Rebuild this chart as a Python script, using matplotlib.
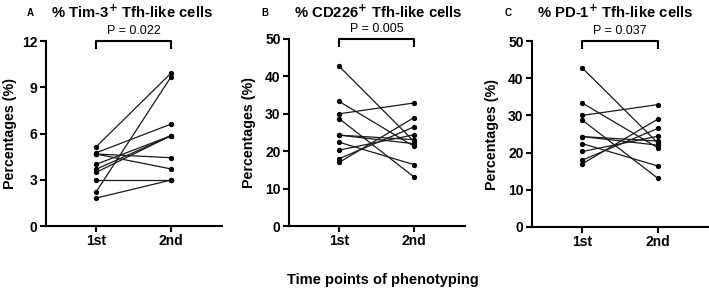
import matplotlib
matplotlib.use("Agg")
import matplotlib.pyplot as plt

plt.rcParams['font.family'] = ['Liberation Sans', 'DejaVu Sans']

timepoints = ["1st", "2nd"]

# Panel A: % Tim-3+ Tfh-like cells (pairs: 1st, 2nd)
tim3_first = [5.14, 4.75, 4.67, 4.67, 4.0, 3.68, 3.48, 2.98, 2.22, 1.81]
tim3_second = [9.92, 6.61, 4.43, 3.70, 5.86, 5.86, 5.86, 2.98, 9.68, 2.98]

# Panel B: % CD226+ Tfh-like cells
cd226_first = [42.7, 33.3, 30.0, 28.7, 24.3, 24.3, 22.4, 20.3, 18.0, 17.0]
cd226_second = [22.6, 21.3, 32.9, 13.1, 23.1, 22.0, 16.4, 24.4, 26.5, 29.0]

# Panel C: % PD-1+ Tfh-like cells
pd1_first = [42.7, 33.3, 30.0, 28.7, 24.3, 24.3, 22.4, 20.3, 18.0, 17.0]
pd1_second = [22.6, 21.3, 32.9, 13.1, 23.1, 22.0, 16.4, 24.4, 26.5, 29.0]

panels = [
    dict(letter="A", title=r"% Tim-3$^{\mathbf{+}}$ Tfh-like cells", first=tim3_first,
         second=tim3_second, yticks=[0, 3, 6, 9, 12], ymax=12, p="P = 0.022",
         box=(46, 222, 226, 41), letter_x=30, ylab_x=10, title_x=132),
    dict(letter="B", title=r"% CD226$^{\mathbf{+}}$ Tfh-like cells", first=cd226_first,
         second=cd226_second, yticks=[0, 10, 20, 30, 40, 50], ymax=50, p="P = 0.005",
         box=(289, 465, 226, 39), letter_x=265, ylab_x=249, title_x=378),
    dict(letter="C", title=r"% PD-1$^{\mathbf{+}}$ Tfh-like cells", first=pd1_first,
         second=pd1_second, yticks=[0, 10, 20, 30, 40, 50], ymax=50, p="P = 0.037",
         box=(532, 709, 227, 41), letter_x=508, ylab_x=492, title_x=615),
]

W, H = 709, 291
fig = plt.figure(figsize=(W / 100, H / 100), dpi=100)

for pn in panels:
    l, r, b, t = pn["box"]
    ax = fig.add_axes([l / W, 1 - b / H, (r - l) / W, (b - t) / H])
    for y1, y2 in zip(pn["first"], pn["second"]):
        ax.plot([0, 1], [y1, y2], color="#1a1a1a", lw=0.9, marker="o", ms=2.8,
                mfc="#000000", mec="#000000", clip_on=False)
    ax.set_xlim(-0.67, 1.68)
    ax.set_ylim(0, pn["ymax"])
    ax.set_xticks([0, 1])
    ax.set_xticklabels(timepoints)
    ax.set_yticks(pn["yticks"])
    for s in ["top", "right"]:
        ax.spines[s].set_visible(False)
    for s in ["left", "bottom"]:
        ax.spines[s].set_linewidth(1.5)
    ax.tick_params(width=1.5, length=4, labelsize=10, pad=2)
    for lab in ax.get_xticklabels() + ax.get_yticklabels():
        lab.set_fontweight("bold")
    ax.set_ylabel("Percentages (%)", fontsize=10.3, fontweight="bold")
    ax.yaxis.set_label_coords((pn["ylab_x"] - l) / (r - l), 0.5)
    ax.yaxis.label.set_horizontalalignment("center")
    ax.yaxis.label.set_verticalalignment("center")
    # significance bracket
    ym = pn["ymax"]
    drop = ym * 0.045
    ax.plot([0, 0, 1, 1], [ym - drop, ym, ym, ym - drop], color="black", lw=1.5,
            clip_on=False, solid_capstyle="butt")
    ax.text(0.5, ym + ym * 0.02, pn["p"], ha="center", va="bottom", fontsize=9)
    # title and letter
    fig.text(pn["title_x"] / W, 1 - 12 / H, pn["title"], ha="center", va="center",
             fontsize=10.7, fontweight="bold")
    fig.text(pn["letter_x"] / W, 1 - 13 / H, pn["letter"], ha="center", va="center",
             fontsize=7, fontweight="bold")

fig.text(383 / W, 1 - 280 / H, "Time points of phenotyping", ha="center", va="center",
         fontsize=10.5, fontweight="bold")

fig.savefig("out.png", dpi=100)
